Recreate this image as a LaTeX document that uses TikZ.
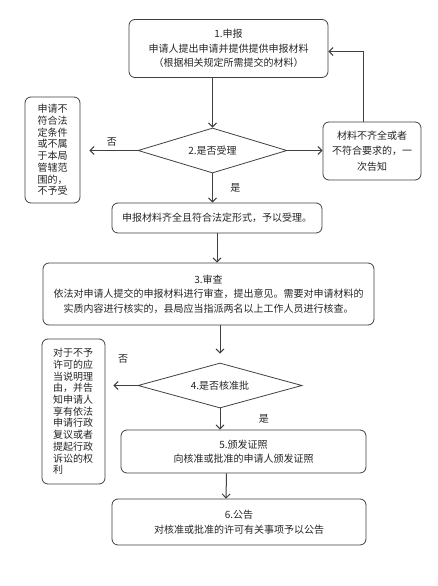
\documentclass[tikz,border=0pt]{standalone}
\usepackage{fontspec}
\setmainfont{Noto Sans CJK SC}
\usetikzlibrary{shapes.geometric,arrows.meta}
\definecolor{linegray}{HTML}{404040}
\tikzset{
    step-box/.style = {draw=linegray, fill=white, line width=0.8pt, rectangle, rounded corners=6pt, align=center, inner sep=2pt, text=black!85, font=\fontsize{10}{14.5}\selectfont},
    side-box/.style = {step-box, font=\fontsize{10}{11.7}\selectfont},
    decision/.style = {draw=linegray, fill=white, line width=0.8pt, diamond, aspect=3.3, inner sep=0pt, text=black!85, font=\fontsize{10}{12}\selectfont},
    flow-arrow/.style = {draw=linegray, line width=1pt, -{Straight Barb[length=4pt,width=8pt]}},
    branch-label/.style = {text=black!85, font=\fontsize{10}{12}\selectfont},
}

\begin{document}
\begin{tikzpicture}[x=1pt,y=-1pt]
\fill[white] (0,0) rectangle (437,586);
\useasboundingbox (0,0) rectangle (437,586);

% steps
\node[step-box, minimum width=199pt, minimum height=58pt] (apply) at (228.5,48.5) {1.申报\\申请人提出申请并提供提供申报材料\\（根据相关规定所需提交的材料）};
\node[decision, minimum width=149pt, minimum height=45pt] (accept-q) at (212.5,150.5) {2.是否受理};
\node[side-box, minimum width=55pt, minimum height=106pt] (refuse) at (52.5,150) {申请不\\符合法\\定条件\\或不属\\于本局\\管辖范\\围的，\\不予受};
\node[step-box, minimum width=98pt, minimum height=58pt, font=\fontsize{10}{15.5}\selectfont] (supply) at (372,151) {材料不齐全或者\\不符合要求的，一\\次告知};
\node[step-box, minimum width=210pt, minimum height=30pt] (accepted) at (217,218) {申报材料齐全且符合法定形式，予以受理。};
\node[step-box, minimum width=331pt, minimum height=62pt] (review) at (208.5,294) {3.审查\\依法对申请人提交的申报材料进行审查，提出意见。需要对申请材料的\\实质内容进行核实的，县局应当指派两名以上工作人员进行核查。};
\node[decision, minimum width=164pt, minimum height=45pt] (approve-q) at (220,385.5) {4.是否核准批};
\node[side-box, align=left, text width=41pt, minimum width=63pt, minimum height=145pt] (deny) at (73.5,411.5) {对于不予\\许可的应\\当说明理\\由，并告\\知申请人\\享有依法\\申请行政\\复议或者\\提起行政\\诉讼的权\\利};
\node[step-box, minimum width=245pt, minimum height=43pt] (issue) at (243.5,451.5) {5.颁发证照\\向核准或批准的申请人颁发证照};
\node[step-box, minimum width=254pt, minimum height=46pt] (notice) at (239,522) {6.公告\\对核准或批准的许可有关事项予以公告};

% connectors
\draw[flow-arrow] (accept-q.north |- apply.south) -- (accept-q.north);
\draw[flow-arrow, shorten >=9pt] (accept-q.west) -- node[branch-label, above, pos=0.45] {否} (accept-q.west -| refuse.east);
\draw[flow-arrow] (accept-q.east) -- (accept-q.east -| supply.west);
\draw[flow-arrow] ([xshift=-9pt]supply.north) |- ([yshift=-3pt]apply.east);
\draw[flow-arrow] (accept-q.south) -- node[branch-label, right=14pt] {是} (accept-q.south |- accepted.north);
\draw[flow-arrow] (accepted.south) -- (accepted.south |- review.north);
\draw[flow-arrow, shorten >=9pt] (approve-q.north |- review.south) -- (approve-q.north);
\draw[flow-arrow, shorten >=8pt] (approve-q.west) -- node[branch-label, above=18pt, pos=0.45] {否} (approve-q.west -| deny.east);
\draw[flow-arrow] (approve-q.south) -- node[branch-label, right=35pt] {是} (approve-q.south |- issue.north);
\draw[flow-arrow] ([xshift=-17pt]issue.south) -- ([xshift=-13pt]notice.north);
\end{tikzpicture}
\end{document}
